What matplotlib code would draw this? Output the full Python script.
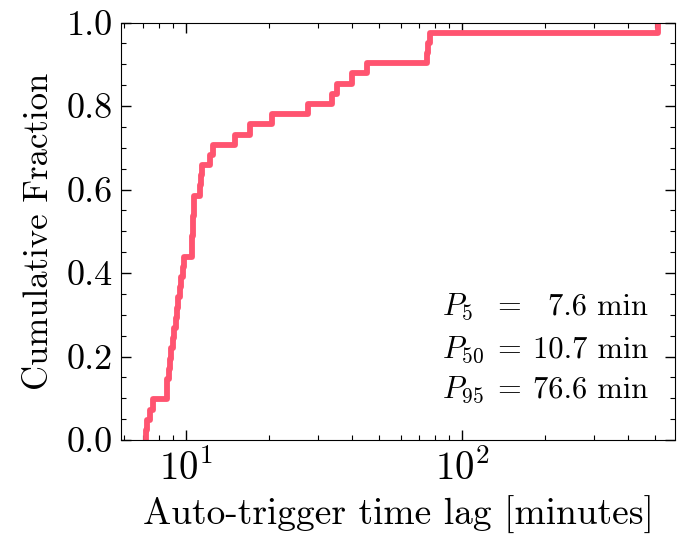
import numpy as np
import matplotlib
matplotlib.use('Agg')
import matplotlib.pyplot as plt
from matplotlib.ticker import LogLocator, MultipleLocator

plt.rcParams['font.family'] = 'serif'
plt.rcParams['font.serif'] = ['cmr10']
plt.rcParams['mathtext.fontset'] = 'cm'
plt.rcParams['axes.formatter.use_mathtext'] = True
plt.rcParams['axes.unicode_minus'] = False

# time lags in minutes (41 events)
lags = [7.18, 7.24, 7.43, 7.61, 8.53, 8.59, 8.67, 8.77, 8.85, 8.96,
        9.07, 9.19, 9.30, 9.38, 9.54, 9.62, 9.74, 9.86, 10.54, 10.58,
        10.63, 10.65, 10.67, 10.70, 11.27, 11.33, 11.41, 12.24, 12.55, 15.08,
        17.09, 20.48, 27.79, 33.77, 35.21, 39.89, 45.20, 74.5, 75.6, 76.6,
        513.4]
pct_names = ['5', '50', '95']
pct_vals = ['7.6', '10.7', '76.6']

x = np.sort(lags)
cdf = np.arange(1, len(x) + 1) / len(x)
x = np.concatenate([[x[0]], x])
cdf = np.concatenate([[0.0], cdf])

fig = plt.figure(figsize=(6.77, 5.36), dpi=100)
ax = fig.add_axes([0.1787, 0.179, 0.8183, 0.779])
ax.step(x, cdf, where='post', color='#ff5470', lw=4.2)

ax.set_xscale('log')
ax.set_xlim(5.83, 590)
ax.set_ylim(0, 1.0)
ax.yaxis.set_major_locator(MultipleLocator(0.2))
ax.yaxis.set_minor_locator(MultipleLocator(0.05))
ax.xaxis.set_minor_locator(LogLocator(base=10, subs=np.arange(2, 10)))
ax.tick_params(which='both', direction='in', top=True, right=True)
ax.tick_params(which='major', length=7, width=1.0)
ax.tick_params(which='minor', length=3.5, width=0.8)
ax.tick_params(axis='y', labelsize=26, pad=6)
ax.tick_params(axis='x', labelsize=28, pad=7)
ax.yaxis.set_major_formatter(plt.FormatStrFormatter('%.1f'))

ax.set_xlabel('Auto-trigger time lag [minutes]', fontsize=27, labelpad=6)
ax.set_ylabel('Cumulative Fraction', fontsize=25, labelpad=8)

ys = [0.301, 0.198, 0.102]
for name, val, yy in zip(pct_names, pct_vals, ys):
    ax.text(0.5794, yy, r'$P_{%s}$' % name, transform=ax.transAxes,
            fontsize=22, va='baseline', ha='left')
    ax.text(0.7004, yy, '=', transform=ax.transAxes,
            fontsize=22, va='baseline', ha='center')
    ax.text(0.9513, yy, val + ' min', transform=ax.transAxes,
            fontsize=22, va='baseline', ha='right')

fig.savefig('out.png', dpi=100)
